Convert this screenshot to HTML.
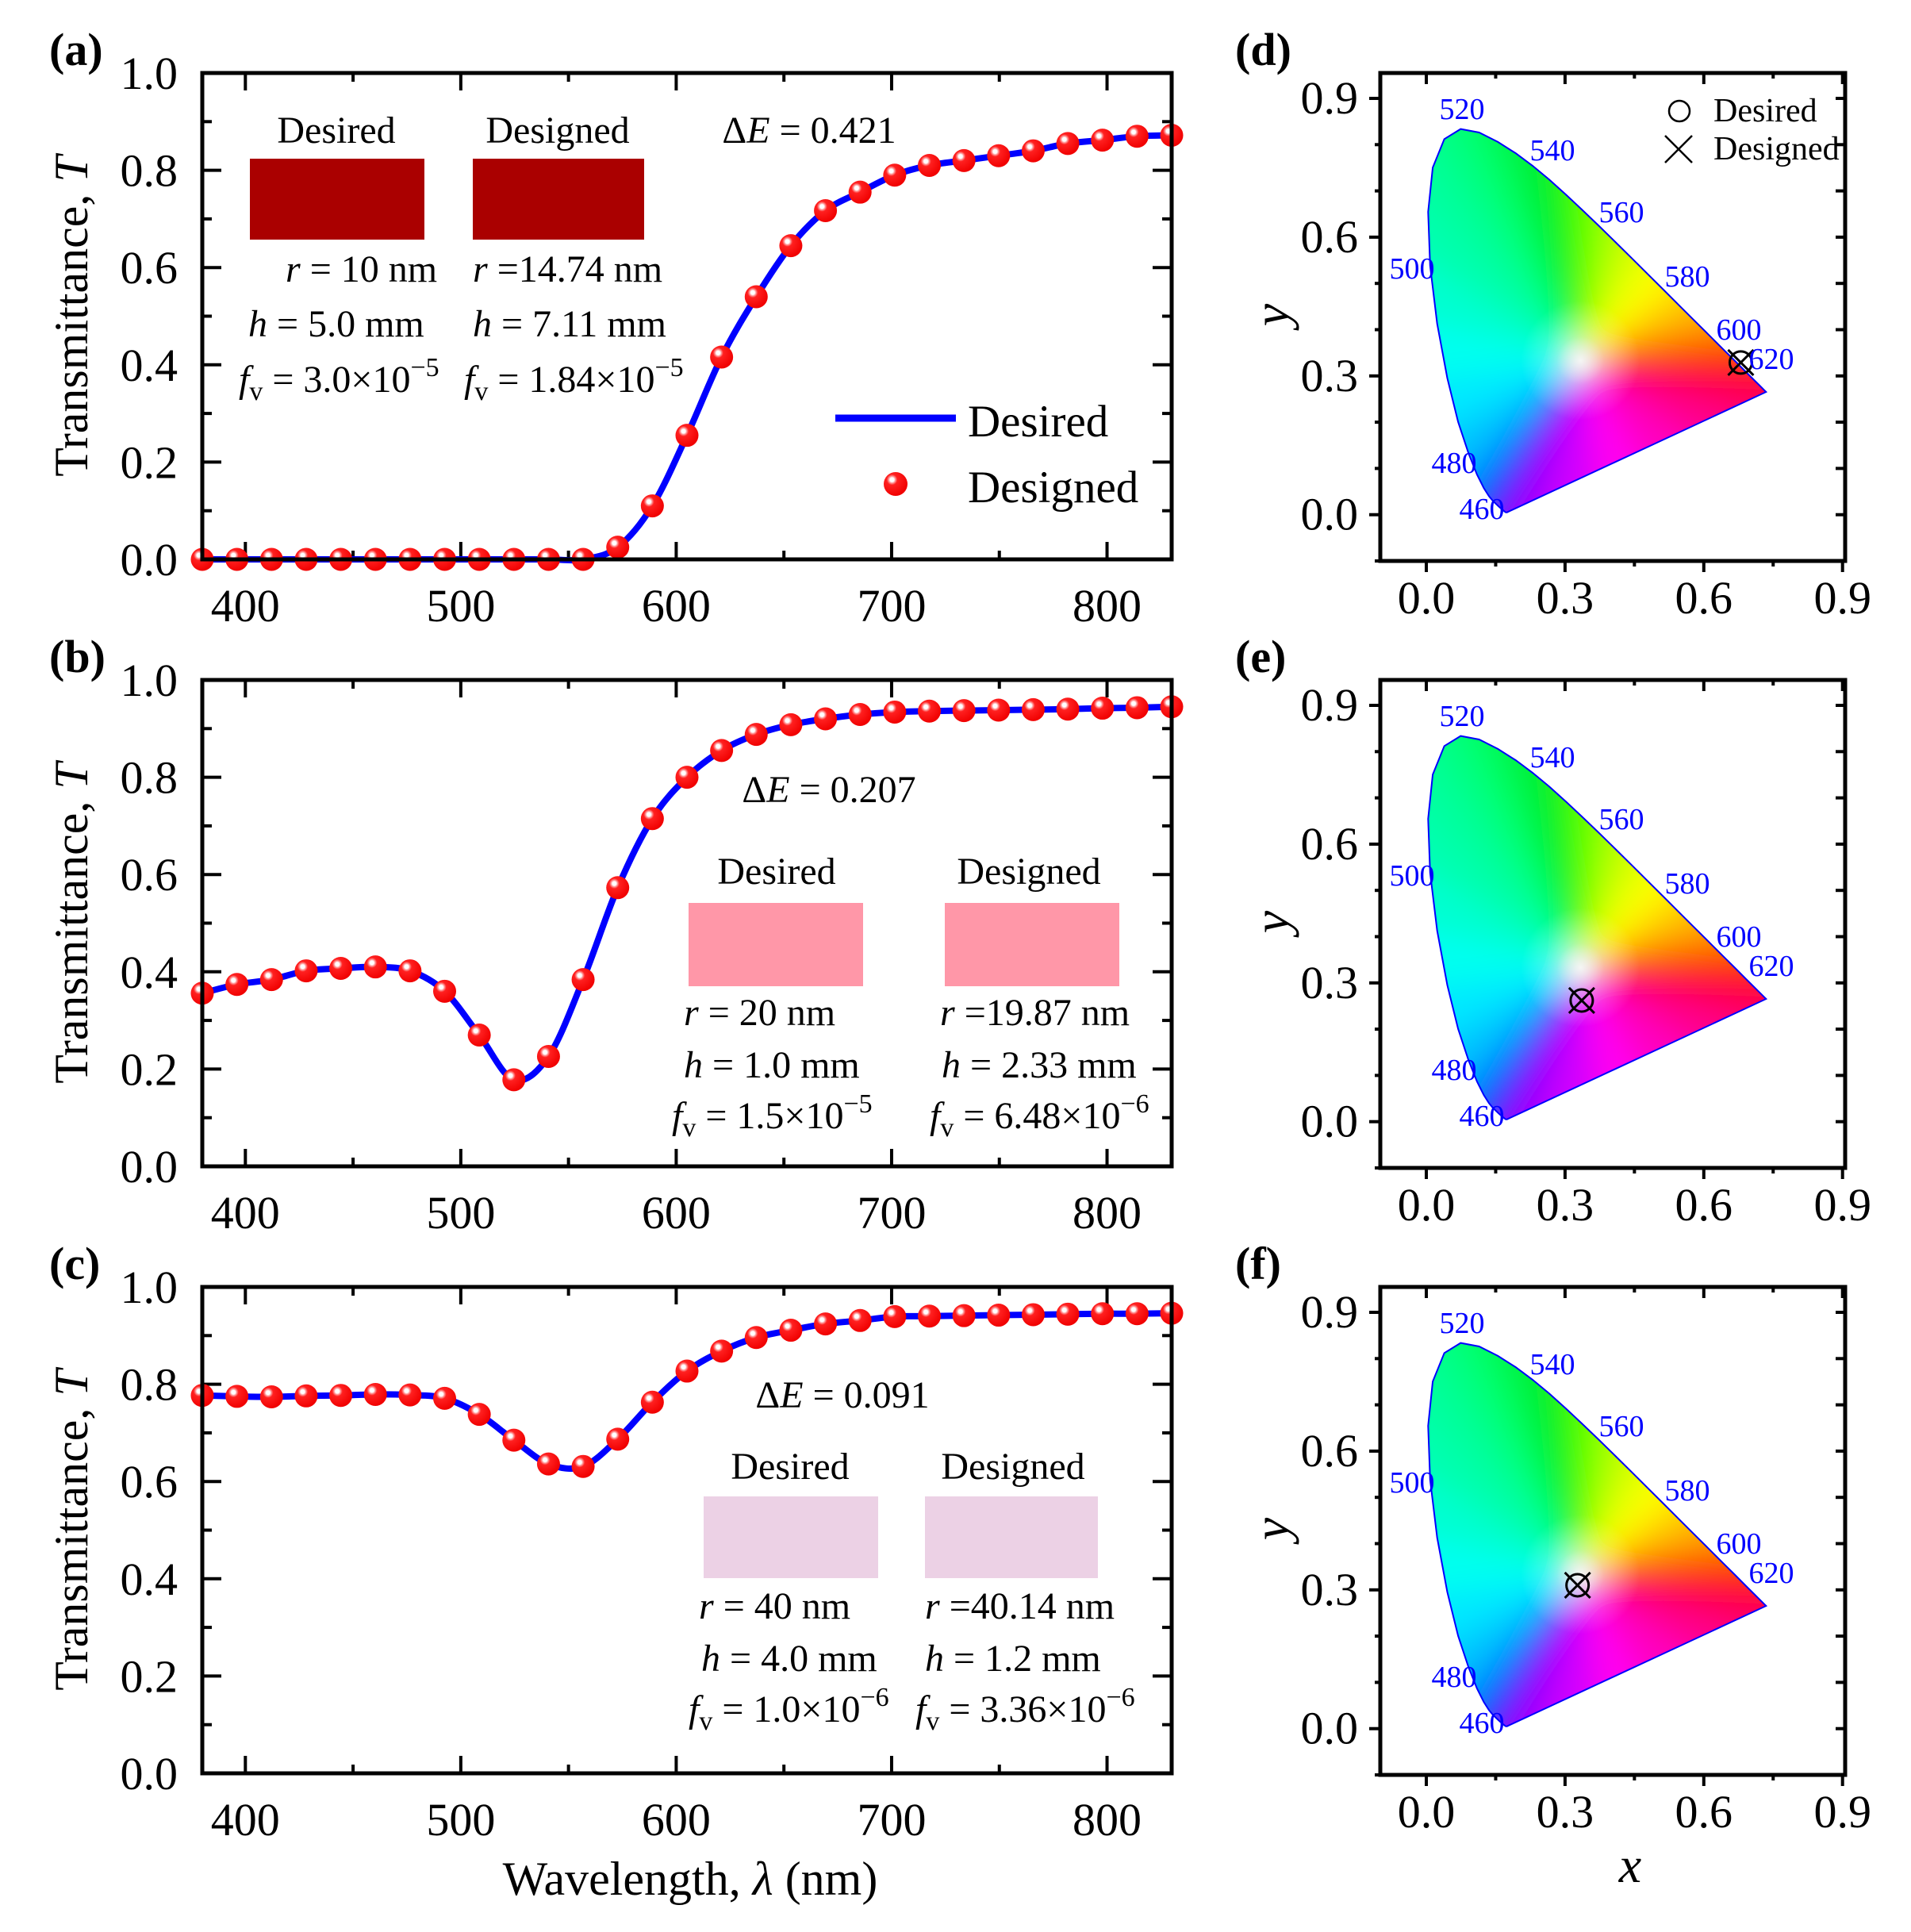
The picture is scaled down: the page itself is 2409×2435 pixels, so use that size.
<!DOCTYPE html>
<html><head><meta charset="utf-8">
<style>
html,body{margin:0;padding:0;background:#fff;}
svg{display:block;font-family:"Liberation Serif",serif;}
</style></head>
<body>
<svg id="s" xmlns="http://www.w3.org/2000/svg" width="2409" height="2435" viewBox="0 0 2409 2435">
<defs>
<radialGradient id="ball" cx="0.35" cy="0.32" r="0.7">
<stop offset="0" stop-color="#ffffff"/>
<stop offset="0.12" stop-color="#ffffff"/>
<stop offset="0.2" stop-color="#ff9a9a"/>
<stop offset="0.32" stop-color="#ff2020"/>
<stop offset="1" stop-color="#f00000"/>
</radialGradient>
<filter id="bl" x="-20%" y="-20%" width="140%" height="140%"><feGaussianBlur stdDeviation="18"/></filter>
<radialGradient id="wh" cx="0.5" cy="0.5" r="0.5">
<stop offset="0" stop-color="#fff" stop-opacity="0.85"/>
<stop offset="0.4" stop-color="#fff" stop-opacity="0.35"/>
<stop offset="1" stop-color="#fff" stop-opacity="0"/>
</radialGradient>
</defs>
<g id="root"></g>
</svg>
<script>
var NS="http://www.w3.org/2000/svg";
var root=document.getElementById('root');
var defs=document.querySelector('defs');
function el(t,a,p,txt){var e=document.createElementNS(NS,t);for(var k in a)e.setAttribute(k,a[k]);if(txt!==undefined)e.textContent=txt;(p||root).appendChild(e);return e;}
function txt(x,y,s,size,opt){opt=opt||{};var a={x:x,y:y,'font-size':size,fill:opt.fill||'#000'};if(opt.anchor)a['text-anchor']=opt.anchor;if(opt.weight)a['font-weight']=opt.weight;if(opt.tr)a.transform=opt.tr;var t=el('text',a,opt.p);t.innerHTML=s;return t;}
var IT='<tspan font-style="italic">';
var L=255,R=1477;
var tops=[92,857,1622],H=613;
function X(w){return L+(w-380)*(R-L)/450;}
var data=[
[0,0,0,0,0,0,0,0,0,0,0,0,0.0,0.025,0.11,0.255,0.416,0.54,0.645,0.717,0.755,0.79,0.81,0.82,0.83,0.84,0.855,0.862,0.87,0.872],
[0.356,0.374,0.384,0.402,0.407,0.41,0.402,0.36,0.27,0.178,0.226,0.384,0.573,0.715,0.8,0.855,0.888,0.908,0.92,0.929,0.934,0.936,0.937,0.938,0.939,0.94,0.942,0.943,0.945],
[0.777,0.775,0.774,0.776,0.777,0.779,0.778,0.771,0.738,0.685,0.636,0.631,0.687,0.763,0.827,0.868,0.896,0.911,0.924,0.931,0.939,0.94,0.941,0.942,0.943,0.944,0.945,0.945,0.946]
];
data[0].shift();
function smooth(pts){var d='M'+pts[0][0]+','+pts[0][1];for(var i=0;i<pts.length-1;i++){var p0=pts[Math.max(0,i-1)],p1=pts[i],p2=pts[i+1],p3=pts[Math.min(pts.length-1,i+2)];var c1x=p1[0]+(p2[0]-p0[0])/6,c1y=p1[1]+(p2[1]-p0[1])/6,c2x=p2[0]-(p3[0]-p1[0])/6,c2y=p2[1]-(p3[1]-p1[1])/6;d+=' C'+c1x+','+c1y+' '+c2x+','+c2y+' '+p2[0]+','+p2[1];}return d;}
var labels=['(a)','(b)','(c)'];
for(var p=0;p<3;p++){
 var T=tops[p],B=T+H;
 function Y(v){return B-v*H;}
 var g=el('g',{});
 for(var w=400;w<=800;w+=50){var big=(w%100==0),len=big?22:11;
  el('line',{x1:X(w),y1:B,x2:X(w),y2:B-len,stroke:'#000','stroke-width':4},g);
  el('line',{x1:X(w),y1:T,x2:X(w),y2:T+len,stroke:'#000','stroke-width':4},g);
  if(big)txt(X(w),B+78,String(w),58,{anchor:'middle'});}
 for(var i=0;i<=10;i++){var v=i/10,big=(i%2==0),len=big?24:12;
  el('line',{x1:L,y1:Y(v),x2:L+len,y2:Y(v),stroke:'#000','stroke-width':4},g);
  el('line',{x1:R,y1:Y(v),x2:R-len,y2:Y(v),stroke:'#000','stroke-width':4},g);
  if(big)txt(224,Y(v)+20,v.toFixed(1),58,{anchor:'end'});}
 var pts=data[p].map(function(v,i){return [X(380+i*450/28),Y(v)];});
 el('path',{d:smooth(pts),fill:'none',stroke:'#0000ff','stroke-width':8},g);
 pts.forEach(function(q){el('circle',{cx:q[0],cy:q[1],r:14.5,fill:'url(#ball)'},g);});
 el('rect',{x:L,y:T,width:R-L,height:H,fill:'none',stroke:'#000','stroke-width':5},g);
 txt(62,T-10,labels[p],58,{weight:'bold'});
 txt(0,0,'Transmittance, '+IT+'T</tspan>',60,{anchor:'middle',tr:'translate(110,'+(T+H/2)+') rotate(-90)'});
}
function inset(cx1,cx2,ty,sw,color,lines1,lines2,x1s,x2s,ys){
 txt(cx1,ty,'Desired',48,{anchor:'middle'});txt(cx2,ty,'Designed',48,{anchor:'middle'});
 el('rect',{x:sw[0],y:sw[2],width:sw[1]-sw[0],height:sw[3]-sw[2],fill:color});
 el('rect',{x:sw[4],y:sw[2],width:sw[5]-sw[4],height:sw[3]-sw[2],fill:color});
 for(var i=0;i<3;i++){txt(x1s[i],ys[i],lines1[i],48);txt(x2s[i],ys[i],lines2[i],48);}
}
var fv=function(m,e){return IT+'f</tspan><tspan dy="10" font-size="34">v</tspan><tspan dy="-10"> = '+m+'×10</tspan><tspan dy="-20" font-size="34">−'+e+'</tspan>';};
inset(424,703,180,[315,535,200,302,596,812],'#aa0000',
 [IT+'r</tspan> = 10 nm',IT+'h</tspan> = 5.0 mm',fv('3.0','5')],
 [IT+'r</tspan> =14.74 nm',IT+'h</tspan> = 7.11 mm',fv('1.84','5')],
 [360,313,301],[596,596,585],[355,424,494]);
txt(1020,180,'Δ'+IT+'E</tspan> = 0.421',48,{anchor:'middle'});
el('line',{x1:1053,y1:527,x2:1205,y2:527,stroke:'#0000ff','stroke-width':9});
txt(1220,550,'Desired',57);
el('circle',{cx:1129,cy:610,r:15,fill:'url(#ball)'});
txt(1220,633,'Designed',57);
inset(979,1297,1114,[868,1088,1138,1243,1191,1411],'#ff97a8',
 [IT+'r</tspan> = 20 nm',IT+'h</tspan> = 1.0 mm',fv('1.5','5')],
 [IT+'r</tspan> =19.87 nm',IT+'h</tspan> = 2.33 mm',fv('6.48','6')],
 [862,862,847],[1185,1187,1172],[1292,1358,1422]);
txt(1045,1011,'Δ'+IT+'E</tspan> = 0.207',48,{anchor:'middle'});
inset(996,1277,1864,[887,1107,1886,1989,1166,1384],'#ecd1e5',
 [IT+'r</tspan> = 40 nm',IT+'h</tspan> = 4.0 mm',fv('1.0','6')],
 [IT+'r</tspan> =40.14 nm',IT+'h</tspan> = 1.2 mm',fv('3.36','6')],
 [881,884,868],[1166,1166,1154],[2040,2106,2170]);
txt(1062,1774,'Δ'+IT+'E</tspan> = 0.091',48,{anchor:'middle'});
txt(870,2388,'Wavelength, '+IT+'λ</tspan> (nm)',60,{anchor:'middle'});
var locus=[[380,0.1741,0.0050],[420,0.1714,0.0051],[440,0.1644,0.0109],[450,0.1566,0.0177],[460,0.1440,0.0297],[465,0.1355,0.0399],[470,0.1241,0.0578],[475,0.1096,0.0868],[480,0.0913,0.1327],[485,0.0687,0.2007],[490,0.0454,0.2950],[495,0.0235,0.4127],[500,0.0082,0.5384],[505,0.0039,0.6548],[510,0.0139,0.7502],[515,0.0389,0.8120],[520,0.0743,0.8338],[525,0.1142,0.8262],[530,0.1547,0.8059],[535,0.1929,0.7816],[540,0.2296,0.7543],[545,0.2658,0.7243],[550,0.3016,0.6923],[555,0.3373,0.6589],[560,0.3731,0.6245],[565,0.4087,0.5896],[570,0.4441,0.5547],[575,0.4788,0.5202],[580,0.5125,0.4866],[585,0.5448,0.4544],[590,0.5752,0.4242],[595,0.6029,0.3965],[600,0.6270,0.3725],[605,0.6482,0.3514],[610,0.6658,0.3340],[620,0.6915,0.3083],[630,0.7079,0.2920],[640,0.7190,0.2809],[660,0.7300,0.2700],[700,0.7347,0.2653]];
var cols={380:'#8000ff',420:'#7000ff',440:'#5000ff',450:'#3020ff',460:'#1030ff',465:'#0050ff',470:'#0080ff',475:'#00a8ff',480:'#00c8ff',485:'#00e8ff',490:'#00fff0',495:'#00ffd0',500:'#00ffb0',505:'#00ffa0',510:'#00ff90',515:'#00ff80',520:'#00ff70',525:'#00ff60',530:'#00f850',535:'#00f040',540:'#00f030',545:'#10f010',550:'#40ff00',555:'#70ff00',560:'#a0ff00',565:'#c8ff00',570:'#e8ff00',575:'#ffff00',580:'#ffe000',585:'#ffc000',590:'#ffa000',595:'#ff8000',600:'#ff6000',605:'#ff4000',610:'#ff2000',620:'#ff0010',630:'#ff0030',640:'#ff0040',660:'#ff0050',700:'#ff0060'};
var cx0=1798,cu=583;
var ctops=[92,857,1622];
var marks=[[0.68,0.329],[0.336,0.262],[0.327,0.31]];
var wl=[[520,1843,137],[540,1957,189],[560,2044,267],[580,2127,348],[600,2192,415],[620,2233,452],[500,1780,338],[480,1833,583],[460,1868,641]];
var clabels=['(d)','(e)','(f)'];
for(var p=0;p<3;p++){
 var T=ctops[p],B=T+615,Lc=1740,Rc=2326;
 var y0=B-0.1*cu;
 function CX(v){return cx0+v*cu;}
 function CY(v){return y0-v*cu;}
 var g=el('g',{});
 var d='';locus.forEach(function(q,i){d+=(i?'L':'M')+CX(q[1]).toFixed(1)+','+CY(q[2]).toFixed(1);});d+='Z';
 var cp=el('clipPath',{id:'cl'+p},defs);el('path',{d:d},cp);
 var cg=el('g',{'clip-path':'url(#cl'+p+')'},g);
 el('path',{d:d,fill:'#aaa'},cg);
 var fg=el('g',{filter:'url(#bl)'},cg);
 var wx=CX(0.3333),wy=CY(0.3333);
 var pl=[];for(var k=0;k<=6;k++){var t=k/6;pl.push([0,0.7347+(0.1741-0.7347)*t,0.2653+(0.0050-0.2653)*t,t]);}
 function ext(x,y){return [wx+(CX(x)-wx)*1.6,wy+(CY(y)-wy)*1.6];}
 for(var i=0;i<locus.length-1;i++){var a=ext(locus[i][1],locus[i][2]),b=ext(locus[i+1][1],locus[i+1][2]);
  el('polygon',{points:wx+','+wy+' '+a[0]+','+a[1]+' '+b[0]+','+b[1],fill:cols[locus[i][0]],stroke:cols[locus[i][0]],'stroke-width':2},fg);}
 var pcols=['#ff0060','#ff0090','#ff00c0','#ff00f0','#d000ff','#a000ff','#8000ff'];
 for(var k=0;k<6;k++){var a=ext(pl[k][1],pl[k][2]),b=ext(pl[k+1][1],pl[k+1][2]);
  el('polygon',{points:wx+','+wy+' '+a[0]+','+a[1]+' '+b[0]+','+b[1],fill:pcols[k],stroke:pcols[k],'stroke-width':2},fg);}
 el('ellipse',{cx:wx,cy:wy,rx:75,ry:75,fill:'url(#wh)'},cg);
 el('path',{d:d,fill:'none',stroke:'#0000ff','stroke-width':2},g);
 wl.forEach(function(q){txt(q[1],q[2]+(T-92)+13,String(q[0]),38,{anchor:'middle',fill:'#0000ff'});});
 for(var k=0;k<=6;k++){var v=k*0.15,big=(k%2==0),len=big?14:7,xx=CX(v);
  el('line',{x1:xx,y1:B,x2:xx,y2:B+len,stroke:'#000','stroke-width':4},g);
  el('line',{x1:xx,y1:T,x2:xx,y2:T+len,stroke:'#000','stroke-width':4},g);
  if(big)txt(xx,B+66,v.toFixed(1),58,{anchor:'middle'});}
 for(var k=-1;k<=9;k++){var v=k/10,big=(k%3==0),yy=CY(v);
  el('line',{x1:Lc,y1:yy,x2:Lc-(big?14:7),y2:yy,stroke:'#000','stroke-width':4},g);
  el('line',{x1:Rc,y1:yy,x2:Rc-12,y2:yy,stroke:'#000','stroke-width':4},g);
  if(big&&k>=0)txt(1712,yy+19,v.toFixed(1),58,{anchor:'end'});}
 el('rect',{x:Lc,y:T,width:Rc-Lc,height:615,fill:'none',stroke:'#000','stroke-width':5},g);
 var mx=CX(marks[p][0]),my=CY(marks[p][1]);
 el('circle',{cx:mx,cy:my,r:14,fill:'none',stroke:'#000','stroke-width':3},g);
 el('path',{d:'M'+(mx-16)+','+(my-16)+'L'+(mx+16)+','+(my+16)+'M'+(mx+16)+','+(my-16)+'L'+(mx-16)+','+(my+16),stroke:'#000','stroke-width':3},g);
 txt(1557,T-10,clabels[p],58,{weight:'bold'});
 txt(0,0,IT+'y</tspan>',64,{anchor:'middle',tr:'translate(1624,'+(T+305)+') rotate(-90)'});
}
el('circle',{cx:2117,cy:140,r:13,fill:'none',stroke:'#000','stroke-width':2.5});
txt(2160,153,'Desired',42);
el('path',{d:'M2099,171L2133,205M2133,171L2099,205',stroke:'#000','stroke-width':2.5});
txt(2160,201,'Designed',42);
txt(2055,2372,IT+'x</tspan>',64,{anchor:'middle'});
</script>
</body></html>
